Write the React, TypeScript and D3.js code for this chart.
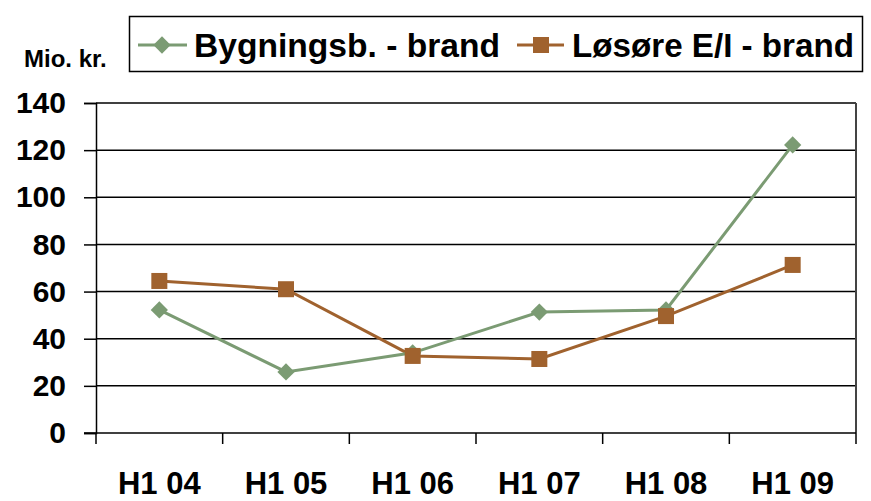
import React, { useEffect, useRef } from "react";
import * as d3 from "d3";

const categories = ["H1 04", "H1 05", "H1 06", "H1 07", "H1 08", "H1 09"];
const bygningValues = [52.2, 25.9, 34, 51.3, 52.2, 122.2];
const losoreValues = [64.5, 61, 32.7, 31.4, 49.6, 71.3];
const yTicks = [0, 20, 40, 60, 80, 100, 120, 140];
const seriesNames = ["Bygningsb. - brand", "Løsøre E/I - brand"];

const GREEN = "#7b9b73";
const BROWN = "#a0622e";
const FONT = "'Liberation Sans', Arial, sans-serif";

const App = () => {
  const svgRef = useRef<SVGSVGElement>(null);

  useEffect(() => {
    const width = 871;
    const height = 501;
    const margin = { top: 103, right: 15, bottom: 68, left: 96 };

    const svg = d3.select(svgRef.current);
    svg.selectAll("*").remove();

    const x = d3
      .scaleBand()
      .domain(categories)
      .range([margin.left, width - margin.right]);

    const y = d3
      .scaleLinear()
      .domain([0, 140])
      .range([height - margin.bottom, margin.top]);

    // grid lines
    svg
      .append("g")
      .selectAll("line")
      .data(yTicks.filter((t) => t > 0))
      .join("line")
      .attr("x1", margin.left)
      .attr("x2", width - margin.right)
      .attr("y1", (d) => y(d))
      .attr("y2", (d) => y(d))
      .attr("stroke", "#000")
      .attr("stroke-width", 1.5);

    // right border
    svg
      .append("line")
      .attr("x1", width - margin.right)
      .attr("x2", width - margin.right)
      .attr("y1", margin.top)
      .attr("y2", height - margin.bottom)
      .attr("stroke", "#444")
      .attr("stroke-width", 2);

    // y axis
    const yAxis = svg
      .append("g")
      .attr("transform", `translate(${margin.left},0)`)
      .call(d3.axisLeft(y).tickValues(yTicks).tickSize(12).tickPadding(18));
    yAxis.select(".domain").attr("stroke", "#000").attr("stroke-width", 1.5);
    yAxis.selectAll(".tick line").attr("stroke", "#000").attr("stroke-width", 1.5);
    yAxis
      .selectAll("text")
      .attr("font-family", FONT)
      .attr("font-weight", "bold")
      .attr("font-size", 30)
      .attr("fill", "#000");

    // x axis
    const xAxis = svg
      .append("g")
      .attr("transform", `translate(0,${height - margin.bottom})`)
      .call(d3.axisBottom(x).tickSize(0).tickPadding(39));
    xAxis.select(".domain").remove();
    xAxis
      .selectAll("text")
      .attr("font-family", FONT)
      .attr("font-weight", "bold")
      .attr("font-size", 31)
      .attr("fill", "#000");
    svg
      .append("line")
      .attr("x1", margin.left - 12)
      .attr("x2", width - margin.right)
      .attr("y1", y(0))
      .attr("y2", y(0))
      .attr("stroke", "#000")
      .attr("stroke-width", 1.5);
    const edges = categories.map((c) => x(c)!).concat([width - margin.right]);
    svg
      .append("g")
      .selectAll("line")
      .data(edges)
      .join("line")
      .attr("x1", (d) => d)
      .attr("x2", (d) => d)
      .attr("y1", y(0))
      .attr("y2", y(0) + 11)
      .attr("stroke", "#000")
      .attr("stroke-width", 1.5);

    const cx = (c: string) => x(c)! + x.bandwidth() / 2;

    const line = d3
      .line<number>()
      .x((_, i) => cx(categories[i]))
      .y((d) => y(d));

    const diamond = d3.symbol().type(d3.symbolDiamond2).size(190);

    // Løsøre
    svg
      .append("path")
      .datum(losoreValues)
      .attr("fill", "none")
      .attr("stroke", BROWN)
      .attr("stroke-width", 3)
      .attr("d", line);

    // Bygning
    svg
      .append("path")
      .datum(bygningValues)
      .attr("fill", "none")
      .attr("stroke", GREEN)
      .attr("stroke-width", 3)
      .attr("d", line);

    svg
      .append("g")
      .selectAll("path")
      .data(bygningValues)
      .join("path")
      .attr("d", diamond)
      .attr("transform", (d, i) => `translate(${cx(categories[i])},${y(d)})`)
      .attr("fill", GREEN);

    svg
      .append("g")
      .selectAll("rect")
      .data(losoreValues)
      .join("rect")
      .attr("x", (d, i) => cx(categories[i]) - 8)
      .attr("y", (d) => y(d) - 8)
      .attr("width", 16)
      .attr("height", 16)
      .attr("fill", BROWN);

    // unit label
    svg
      .append("text")
      .attr("x", 24)
      .attr("y", 67)
      .attr("font-family", FONT)
      .attr("font-weight", "bold")
      .attr("font-size", 24)
      .text("Mio. kr.");

    // legend
    const legend = svg.append("g");
    legend
      .append("rect")
      .attr("x", 129.5)
      .attr("y", 16.5)
      .attr("width", 733)
      .attr("height", 55)
      .attr("fill", "#fff")
      .attr("stroke", "#000")
      .attr("stroke-width", 1.5);

    const ly = 45;
    legend
      .append("line")
      .attr("x1", 138)
      .attr("x2", 187)
      .attr("y1", ly)
      .attr("y2", ly)
      .attr("stroke", GREEN)
      .attr("stroke-width", 3);
    legend
      .append("path")
      .attr("d", diamond)
      .attr("transform", `translate(162,${ly})`)
      .attr("fill", GREEN);
    legend
      .append("text")
      .attr("x", 194)
      .attr("y", ly + 12)
      .attr("font-family", FONT)
      .attr("font-weight", "bold")
      .attr("font-size", 33)
      .attr("textLength", 306)
      .attr("lengthAdjust", "spacingAndGlyphs")
      .text(seriesNames[0]);

    legend
      .append("line")
      .attr("x1", 517)
      .attr("x2", 564)
      .attr("y1", ly)
      .attr("y2", ly)
      .attr("stroke", BROWN)
      .attr("stroke-width", 3);
    legend
      .append("rect")
      .attr("x", 533)
      .attr("y", ly - 8)
      .attr("width", 16)
      .attr("height", 16)
      .attr("fill", BROWN);
    legend
      .append("text")
      .attr("x", 572)
      .attr("y", ly + 12)
      .attr("font-family", FONT)
      .attr("font-weight", "bold")
      .attr("font-size", 33)
      .attr("textLength", 282)
      .attr("lengthAdjust", "spacingAndGlyphs")
      .text(seriesNames[1]);
  }, []);

  return (
    <svg
      ref={svgRef}
      width={871}
      height={501}
      style={{ position: "absolute", left: 0, top: 0, background: "#fff" }}
    ></svg>
  );
};

export default App;
